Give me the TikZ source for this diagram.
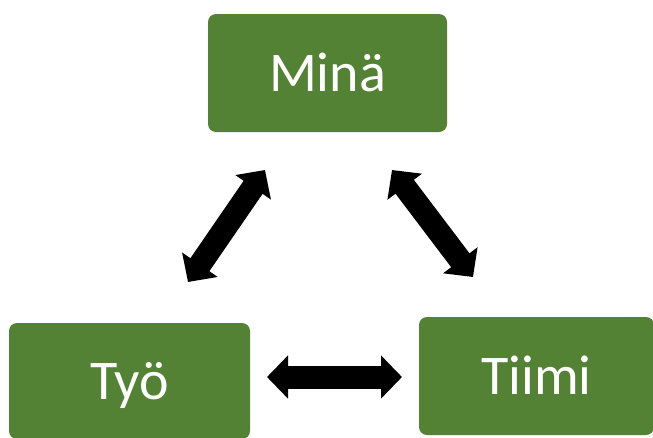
\documentclass[tikz,border=0pt]{standalone}
\usepackage{fontspec}
\setmainfont{Carlito}
\usetikzlibrary{arrows.meta}
\definecolor{boxgreen}{HTML}{548235}
\begin{document}
\begin{tikzpicture}[x=1pt,y=-1pt,
  gbox/.style={fill=boxgreen, draw=none, rounded corners=8pt, text=white,
    font=\fontsize{56}{62}\selectfont, inner sep=0pt, outer sep=0pt,
    text height=36pt, text depth=0pt, align=center},
  bigarrow/.style={line width=23pt, line cap=butt,
    {Triangle[width=42pt,length=21pt]}-{Triangle[width=42pt,length=21pt]}}]
\useasboundingbox (0,0) rectangle (653,437);
\begin{scope}
\clip (0,0) rectangle (653,437);
\node[gbox, minimum width=239pt, minimum height=118pt] (mina) at (327.5,73) {Minä};
\node[gbox, minimum width=241pt, minimum height=116pt] (tyo) at (129.5,381) {Työ};
\node[gbox, minimum width=235pt, minimum height=118pt] (tiimi) at (536.5,376) {Tiimi};
\end{scope}
\coordinate (a1) at (265,170);
\coordinate (a2) at (188,282);
\coordinate (b1) at (392,170);
\coordinate (b2) at (473,277);
\coordinate (c1) at (267,377);
\coordinate (c2) at (402,377);
\draw[bigarrow] (a1) -- (a2);
\draw[bigarrow] (b1) -- (b2);
\draw[bigarrow] (c1) -- (c2);
\end{tikzpicture}
\end{document}
